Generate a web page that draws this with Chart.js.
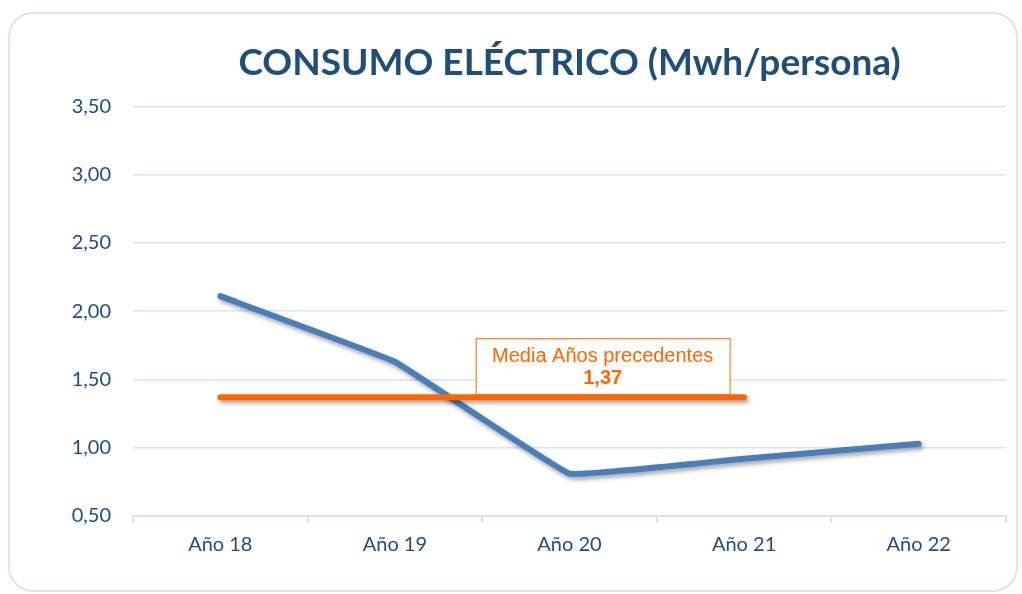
<!DOCTYPE html>
<html>
<head>
<meta charset="utf-8">
<script src="https://cdn.jsdelivr.net/npm/chart.js@4"></script>
<style>
  html, body { margin: 0; padding: 0; background: #fff; }
  #wrap { width: 1022px; height: 594px; }
</style>
</head>
<body>
<div id="wrap"><canvas id="myChart" width="1022" height="594"></canvas></div>
<script>
const years = ['Año 18', 'Año 19', 'Año 20', 'Año 21', 'Año 22'];
const consumo = [2.11, 1.63, 0.81, 0.92, 1.03];
const mediaValue = 1.37;
const mediaSpan = [1.37, 1.37, 1.37, 1.37, null];
const mediaLabel = 'Media Años precedentes';

const darkBlue = '#1f4e79';
const gridBlue = '#d9e4f3';
const orange = '#ff6600';
const fmt = new Intl.NumberFormat('es-ES', { minimumFractionDigits: 2, maximumFractionDigits: 2 });

// rounded frame round the whole chart
const framePlugin = {
    id: 'frame',
    beforeDraw(chart) {
        const c = chart.ctx;
        c.save();
        c.strokeStyle = '#dbe5f3';
        c.lineWidth = 2;
        c.beginPath();
        c.roundRect(9, 13, 1008, 578, 24);
        c.stroke();
        c.restore();
    }
};

// soft shadow under the lines
const shadowPlugin = {
    id: 'lineShadow',
    beforeDatasetDraw(chart) {
        const c = chart.ctx;
        c.save();
        c.shadowColor = 'rgba(0,0,0,0.35)';
        c.shadowBlur = 4;
        c.shadowOffsetX = 2;
        c.shadowOffsetY = 3;
    },
    afterDatasetDraw(chart) {
        chart.ctx.restore();
    }
};

// label box above the average line
const mediaBoxPlugin = {
    id: 'mediaBox',
    afterDatasetsDraw(chart) {
        const c = chart.ctx;
        const xs = chart.scales.x, ys = chart.scales.y;
        const cx = xs.getPixelForValue(2.19);
        const lineY = ys.getPixelForValue(mediaValue);
        const w = 254, h = 56;
        const left = cx - w / 2, top = lineY - 3 - h;
        c.save();
        c.fillStyle = '#fff';
        c.fillRect(left, top, w, h);
        c.strokeStyle = orange;
        c.lineWidth = 1;
        c.strokeRect(left + 0.5, top + 0.5, w, h);
        c.fillStyle = orange;
        c.textAlign = 'center';
        c.textBaseline = 'middle';
        c.font = '20px "Liberation Sans", Arial, sans-serif';
        c.fillText(mediaLabel, cx, top + 18);
        c.font = 'bold 20px "Liberation Sans", Arial, sans-serif';
        c.fillText(fmt.format(mediaValue), cx, top + 40);
        c.restore();
    }
};

const ctx = document.getElementById('myChart').getContext('2d');
const myChart = new Chart(ctx, {
    type: 'line',
    data: {
        labels: years,
        datasets: [{
            label: 'Media',
            data: mediaSpan,
            borderColor: orange,
            borderWidth: 6,
            borderCapStyle: 'round',
            pointRadius: 0,
            fill: false
        }, {
            label: 'Consumo',
            data: consumo,
            borderColor: '#4a7ebb',
            borderWidth: 6,
            borderCapStyle: 'round',
            borderJoinStyle: 'round',
            tension: 0.06,
            pointRadius: 0,
            fill: false
        }]
    },
    options: {
        responsive: false,
        animation: false,
        layout: { padding: { left: 0, right: 16, top: 0, bottom: 0 } },
        plugins: {
            legend: { display: false },
            tooltip: { enabled: false },
            title: {
                display: true,
                fullSize: false,
                text: 'CONSUMO ELÉCTRICO (Mwh/persona)',
                color: darkBlue,
                font: { family: 'Lato', size: 37, weight: 'bold' },
                padding: { top: 41, bottom: 21 }
            }
        },
        scales: {
            x: {
                offset: true,
                grid: {
                    offset: true,
                    drawOnChartArea: false,
                    color: gridBlue,
                    lineWidth: 2,
                    tickLength: 7
                },
                border: { color: gridBlue, width: 2 },
                ticks: {
                    color: darkBlue,
                    font: { family: 'Lato', size: 20 },
                    padding: 10
                },
                afterFit(scale) { scale.height = 78; }
            },
            y: {
                min: 0.5,
                max: 3.5,
                grid: { color: gridBlue, lineWidth: 1.5, drawTicks: false },
                border: { display: false },
                ticks: {
                    stepSize: 0.5,
                    color: darkBlue,
                    font: { family: 'Lato', size: 20 },
                    padding: 22,
                    callback: v => fmt.format(v)
                },
                afterFit(scale) { scale.width = 133; }
            }
        }
    },
    plugins: [framePlugin, shadowPlugin, mediaBoxPlugin]
});
</script>
</body>
</html>
